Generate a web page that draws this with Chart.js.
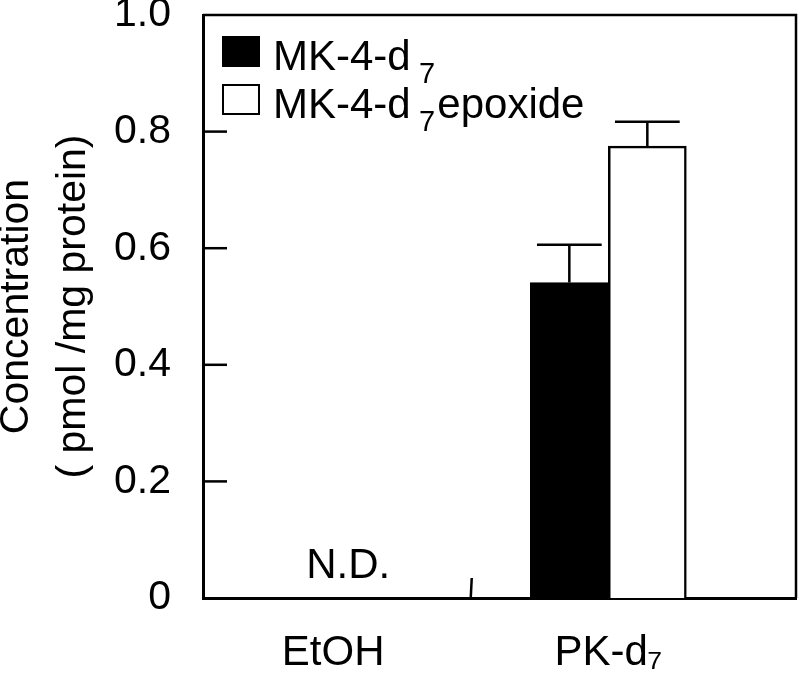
<!DOCTYPE html>
<html>
<head>
<meta charset="utf-8">
<script src="https://cdn.jsdelivr.net/npm/chart.js@4/dist/chart.umd.min.js"></script>
<style>
  html, body { margin: 0; padding: 0; background: #fff; }
  #wrap { width: 800px; height: 677px; }
</style>
</head>
<body>
<div id="wrap"><canvas id="chart" width="800" height="677"></canvas></div>
<script>
// groups on the x axis (placed at 0 and 1 on a linear scale)
const groups = ['EtOH', 'PK-d₇'];
const groupPos = [0, 1];

// series
const seriesNames = ['MK-4-d₇', 'MK-4-d₇epoxide'];
const mkValues = [null, 0.541];
const mkErrors = [null, 0.065];
const epoValues = [null, 0.775];
const epoErrors = [null, 0.042];

const yTicks = [0, 0.2, 0.4, 0.6, 0.8, 1.0];
const yTitle = ['Concentration', '( pmol /mg protein)'];
const ndLabel = 'N.D.'; // shown over EtOH

const FONT = '"Liberation Sans", Arial, Helvetica, sans-serif';
const errors = [mkErrors, epoErrors];

// draw text, turning unicode subscript digits into small lowered digits
function drawRich(ctx, text, x, y, size) {
  const subs = '₀₁₂₃₄₅₆₇₈₉';
  let cx = x;
  for (const ch of text) {
    const k = subs.indexOf(ch);
    if (k >= 0) {
      cx += size * 0.2;
      ctx.font = `${Math.round(size * 0.68)}px ${FONT}`;
      ctx.fillText(String(k), cx, y + size * 0.3);
      cx += ctx.measureText(String(k)).width + size * 0.05;
    } else {
      ctx.font = `${size}px ${FONT}`;
      ctx.fillText(ch, cx, y);
      cx += ctx.measureText(ch).width;
    }
  }
}

const extras = {
  id: 'extras',
  afterDatasetsDraw(chart) {
    const ctx = chart.ctx;
    const area = chart.chartArea;
    const x = chart.scales.x;
    const y = chart.scales.y;
    ctx.save();
    ctx.strokeStyle = '#000';
    ctx.fillStyle = '#000';

    // error bars (upper half only)
    ctx.lineWidth = 2.5;
    chart.data.datasets.forEach((ds, i) => {
      const meta = chart.getDatasetMeta(i);
      meta.data.forEach((bar, j) => {
        const v = ds.data[j].y;
        const e = errors[i][j];
        if (v == null || e == null) return;
        const yTop = y.getPixelForValue(v + e);
        const cap = bar.width * 0.83;
        ctx.beginPath();
        ctx.moveTo(bar.x, bar.y);
        ctx.lineTo(bar.x, yTop);
        ctx.moveTo(bar.x - cap / 2, yTop);
        ctx.lineTo(bar.x + cap / 2, yTop);
        ctx.stroke();
      });
    });

    // frame top and right
    ctx.lineWidth = 2.5;
    ctx.beginPath();
    ctx.moveTo(area.left, area.top);
    ctx.lineTo(area.right, area.top);
    ctx.lineTo(area.right, area.bottom);
    ctx.stroke();

    // inward y ticks
    y.ticks.forEach(t => {
      const py = y.getPixelForValue(t.value);
      if (t.value === 0 || t.value === 1) return;
      ctx.beginPath();
      ctx.moveTo(area.left, py);
      ctx.lineTo(area.left + 24, py);
      ctx.stroke();
    });

    // separator tick between the groups
    const sx = x.getPixelForValue((groupPos[0] + groupPos[1]) / 2);
    ctx.beginPath();
    ctx.moveTo(sx, area.bottom);
    ctx.lineTo(sx + 1, area.bottom - 20);
    ctx.stroke();

    // N.D. over EtOH
    ctx.textAlign = 'center';
    ctx.textBaseline = 'alphabetic';
    ctx.font = `42px ${FONT}`;
    ctx.fillText(ndLabel, x.getPixelForValue(groupPos[0]) + 15, y.getPixelForValue(0) - 20);

    // legend
    ctx.textAlign = 'left';
    const lx = area.left + 20;
    const rows = [area.top + 22, area.top + 70];
    chart.data.datasets.forEach((ds, i) => {
      const ry = rows[i];
      ctx.fillStyle = ds.backgroundColor;
      ctx.fillRect(lx, ry, 36, 29);
      ctx.lineWidth = 2;
      ctx.strokeRect(lx, ry, 36, 29);
      ctx.fillStyle = '#000';
      drawRich(ctx, seriesNames[i], lx + 50, ry + 33, 42);
    });
    ctx.restore();
  }
};

new Chart(document.getElementById('chart'), {
  type: 'bar',
  data: {
    datasets: [
      {
        label: seriesNames[0],
        data: groupPos.map((p, i) => ({ x: p, y: mkValues[i] })),
        backgroundColor: '#000',
        borderColor: '#000',
        borderWidth: 2.5,
        barThickness: 78
      },
      {
        label: seriesNames[1],
        data: groupPos.map((p, i) => ({ x: p, y: epoValues[i] })),
        backgroundColor: '#fff',
        borderColor: '#000',
        borderWidth: 2.5,
        barThickness: 78
      }
    ]
  },
  options: {
    responsive: false,
    animation: false,
    layout: { padding: { top: 15, right: 4, left: 0, bottom: 0 } },
    plugins: { legend: { display: false }, tooltip: { enabled: false } },
    scales: {
      x: {
        type: 'linear',
        offset: false,
        min: -0.473,
        max: 1.682,
        grid: { display: false, drawTicks: false },
        border: { color: '#000', width: 3 },
        afterBuildTicks: s => { s.ticks = groupPos.map(v => ({ value: v })); },
        afterFit: s => { s.height = 79; s.paddingLeft = 0; s.paddingRight = 0; },
        ticks: {
          padding: 30,
          color: '#000',
          font: { family: FONT, size: 42 },
          callback: v => groups[groupPos.indexOf(v)]
        }
      },
      y: {
        min: 0,
        max: 1,
        grid: { display: false, drawTicks: false },
        border: { color: '#000', width: 3 },
        afterBuildTicks: s => { s.ticks = yTicks.map(v => ({ value: v })); },
        afterFit: s => { s.width = 203; s.paddingTop = 0; s.paddingBottom = 0; },
        ticks: {
          padding: 32,
          color: '#000',
          font: { family: FONT, size: 41 },
          callback: v => (v === 0 ? '0' : v.toFixed(1))
        },
        title: {
          display: true,
          text: yTitle,
          color: '#000',
          font: { family: FONT, size: 41, lineHeight: 1.4 },
          padding: { top: -12, bottom: 0 }
        }
      }
    }
  },
  plugins: [extras]
});
</script>
</body>
</html>
